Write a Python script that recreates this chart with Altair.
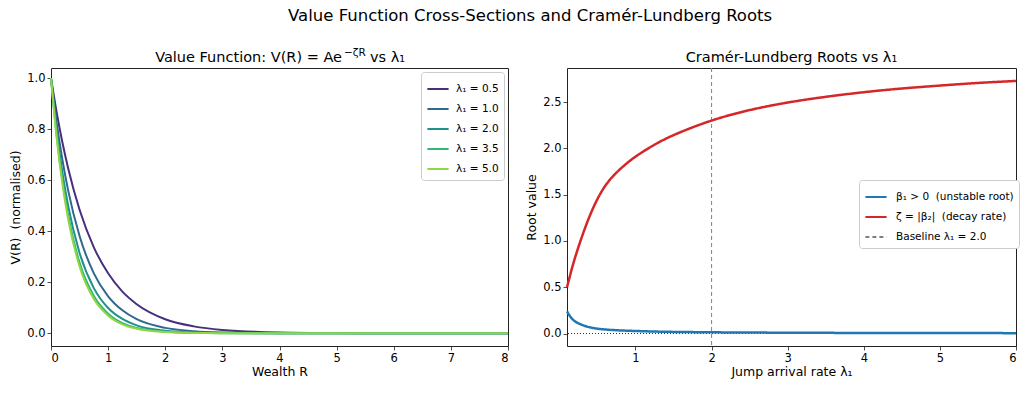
import altair as alt
import pandas as pd

FONT = "DejaVu Sans"
NB = "\u00a0"

# ---------------- data: left panel (value function cross-sections) -------------
R_VALUES = [0.0, 0.1, 0.2, 0.3, 0.5, 0.75, 1.0, 1.25, 1.5, 2.0, 2.5, 3.0, 4.0, 5.0, 6.0, 8.0]
LAMBDA_LABELS = ["λ₁ = 0.5", "λ₁ = 1.0", "λ₁ = 2.0", "λ₁ = 3.5", "λ₁ = 5.0"]
LAMBDA_COLORS = ["#472f7d", "#31688e", "#21918c", "#35b779", "#90d743"]
V_L05 = [1.0, 0.865, 0.748, 0.647, 0.484, 0.337, 0.235, 0.163, 0.114, 0.055, 0.027, 0.013, 0.003, 0.0007, 0.0002, 0.0]
V_L10 = [1.0, 0.824, 0.680, 0.560, 0.381, 0.235, 0.145, 0.090, 0.055, 0.021, 0.008, 0.003, 0.0004, 0.0001, 0.0, 0.0]
V_L20 = [1.0, 0.794, 0.630, 0.500, 0.315, 0.177, 0.099, 0.056, 0.031, 0.010, 0.003, 0.001, 0.0001, 0.0, 0.0, 0.0]
V_L35 = [1.0, 0.773, 0.598, 0.463, 0.277, 0.146, 0.077, 0.040, 0.021, 0.006, 0.0016, 0.0004, 0.0, 0.0, 0.0, 0.0]
V_L50 = [1.0, 0.765, 0.585, 0.448, 0.262, 0.134, 0.069, 0.035, 0.018, 0.005, 0.0012, 0.0003, 0.0, 0.0, 0.0, 0.0]

# ---------------- data: right panel (Cramer-Lundberg roots) ---------------------
LAM = [0.1, 0.15, 0.2, 0.3, 0.4, 0.5, 0.6, 0.7, 0.8, 0.9, 1.0, 1.25, 1.5, 2.0, 2.5, 3.0, 3.5, 4.0, 4.5, 5.0, 5.5, 6.0]
BETA1 = [0.24, 0.17, 0.13, 0.09, 0.065, 0.052, 0.043, 0.038, 0.033, 0.030, 0.027, 0.021, 0.017, 0.013, 0.010, 0.009, 0.007, 0.006, 0.0055, 0.005, 0.0045, 0.004]
ZETA = [0.50, 0.66, 0.81, 1.06, 1.28, 1.46, 1.60, 1.70, 1.78, 1.85, 1.915, 2.045, 2.15, 2.31, 2.42, 2.50, 2.56, 2.61, 2.65, 2.68, 2.71, 2.73]
SERIES_LABELS = ["β₁ > 0" + NB + NB + "(unstable root)", "ζ = |β₂|" + NB + NB + "(decay rate)", "Baseline λ₁ = 2.0"]
SERIES_COLORS = ["#1f77b4", "#d62728", "#808080"]
BASELINE_LAMBDA = [2.0]
ZERO_LEVEL = [0.0]

SUPTITLE = "Value Function Cross-Sections and Cramér-Lundberg Roots"
LEFT_TITLE_PARTS = ["Value Function: V(R) = Ae", "−ζR", "vs λ₁"]
RIGHT_TITLE = "Cramér-Lundberg Roots vs λ₁"

# ---------------- tables ------------------------------------------------------
left_rows = []
for lab, vals in zip(LAMBDA_LABELS, [V_L05, V_L10, V_L20, V_L35, V_L50]):
    for r, v in zip(R_VALUES, vals):
        left_rows.append({"R": r, "V": v, "label": lab})
df_left = pd.DataFrame(left_rows)

right_rows = []
for lab, vals in zip(SERIES_LABELS[:2], [BETA1, ZETA]):
    for l, v in zip(LAM, vals):
        right_rows.append({"lam": l, "val": v, "series": lab})
df_right = pd.DataFrame(right_rows)
df_base = pd.DataFrame({"lam": BASELINE_LAMBDA, "series": [SERIES_LABELS[2]]})
df_zero = pd.DataFrame({"val": ZERO_LEVEL})

LW, RW, H = 457, 449, 278
TFS = 14.5

# ---------------- left panel ------------------------------------------------------
x_left = alt.X("R:Q", scale=alt.Scale(domain=[0, 8], nice=False, zero=False),
               axis=alt.Axis(values=list(range(9)), format="d", title="Wealth R"))
y_left = alt.Y("V:Q", scale=alt.Scale(domain=[-0.05, 1.04], nice=False, zero=False),
               axis=alt.Axis(values=[0, 0.2, 0.4, 0.6, 0.8, 1.0], format=".1f",
                             title="V(R)" + NB + NB + "(normalised)", titlePadding=4.5))

left_lines = alt.Chart(df_left).mark_line(strokeWidth=2, interpolate="monotone").encode(
    x=x_left, y=y_left,
    color=alt.Color("label:N", scale=alt.Scale(domain=LAMBDA_LABELS, range=LAMBDA_COLORS),
                    legend=alt.Legend(title=None, orient="top-right", offset=4, labelOffset=6)),
)

def title_piece(txt, x, size, ypos, align):
    return alt.Chart(pd.DataFrame({"t": [txt]})).mark_text(
        align=align, baseline="alphabetic", fontSize=size, font=FONT, color="black"
    ).encode(text="t:N", x=alt.value(x), y=alt.value(ypos))

left_title = (title_piece(LEFT_TITLE_PARTS[0], 291, TFS, -6, "right")
              + title_piece(LEFT_TITLE_PARTS[1], 293, 10.5, -12, "left")
              + title_piece(LEFT_TITLE_PARTS[2], 319, TFS, -6, "left"))

left = alt.layer(left_lines, left_title).properties(width=LW, height=H)

# ---------------- right panel -----------------------------------------------------
x_right = alt.X("lam:Q", scale=alt.Scale(domain=[0.1, 6], nice=False, zero=False),
                axis=alt.Axis(values=[1, 2, 3, 4, 5, 6], format="d", title="Jump arrival rate λ₁"))
y_right = alt.Y("val:Q", scale=alt.Scale(domain=[-0.135, 2.87], nice=False, zero=False),
                axis=alt.Axis(values=[0, 0.5, 1.0, 1.5, 2.0, 2.5], format=".1f",
                              title="Root value", titlePadding=4.5))

series_legend = alt.Legend(title=None, orient="none", legendX=292, legendY=112, labelOffset=8)
color_enc = alt.Color("series:N", scale=alt.Scale(domain=SERIES_LABELS, range=SERIES_COLORS),
                      legend=series_legend)
dash_enc = alt.StrokeDash("series:N", scale=alt.Scale(domain=SERIES_LABELS,
                                                      range=[[1, 0], [1, 0], [4, 3]]),
                          legend=series_legend)

zero_line = alt.Chart(df_zero).mark_rule(color="black", strokeWidth=0.8, strokeDash=[1, 2]).encode(
    y=alt.Y("val:Q", scale=alt.Scale(domain=[-0.135, 2.87], nice=False, zero=False))
)
base_rule = alt.Chart(df_base).mark_rule(strokeWidth=1).encode(
    x=alt.X("lam:Q"), color=color_enc, strokeDash=dash_enc
)
right_lines = alt.Chart(df_right).mark_line(strokeWidth=2.5, interpolate="basis").encode(
    x=x_right, y=y_right, color=color_enc, strokeDash=dash_enc
)
right_title = title_piece(RIGHT_TITLE, RW / 2, TFS, -6, "center")

right = alt.layer(zero_line, base_rule, right_lines, right_title).properties(width=RW, height=H)

chart = alt.hconcat(left, right, spacing=59, bounds="flush").resolve_scale(
    color="independent", strokeDash="independent"
).properties(
    padding=0,
    title=alt.Title(SUPTITLE, fontSize=16.5, anchor="middle", offset=23, dx=15),
).configure_view(
    stroke="#222222", strokeWidth=1
).configure_axis(
    labelFont=FONT, titleFont=FONT, labelFontSize=11.5, titleFontSize=12.5,
    labelColor="black", titleColor="black", tickColor="#222222", tickSize=4,
    tickWidth=0.8, domain=False, grid=False, labelPadding=2, titlePadding=2,
    titleFontWeight="normal",
).configure_legend(
    labelFont=FONT, labelFontSize=10.5, labelColor="black", symbolType="stroke",
    symbolStrokeWidth=2, symbolSize=450, fillColor="white", strokeColor="#cccccc",
    padding=5, cornerRadius=3, rowPadding=2, labelLimit=300,
).configure_title(
    font=FONT, fontWeight="normal", color="black",
)

chart.save("out.html", embed_options={"renderer": "svg", "actions": False})
